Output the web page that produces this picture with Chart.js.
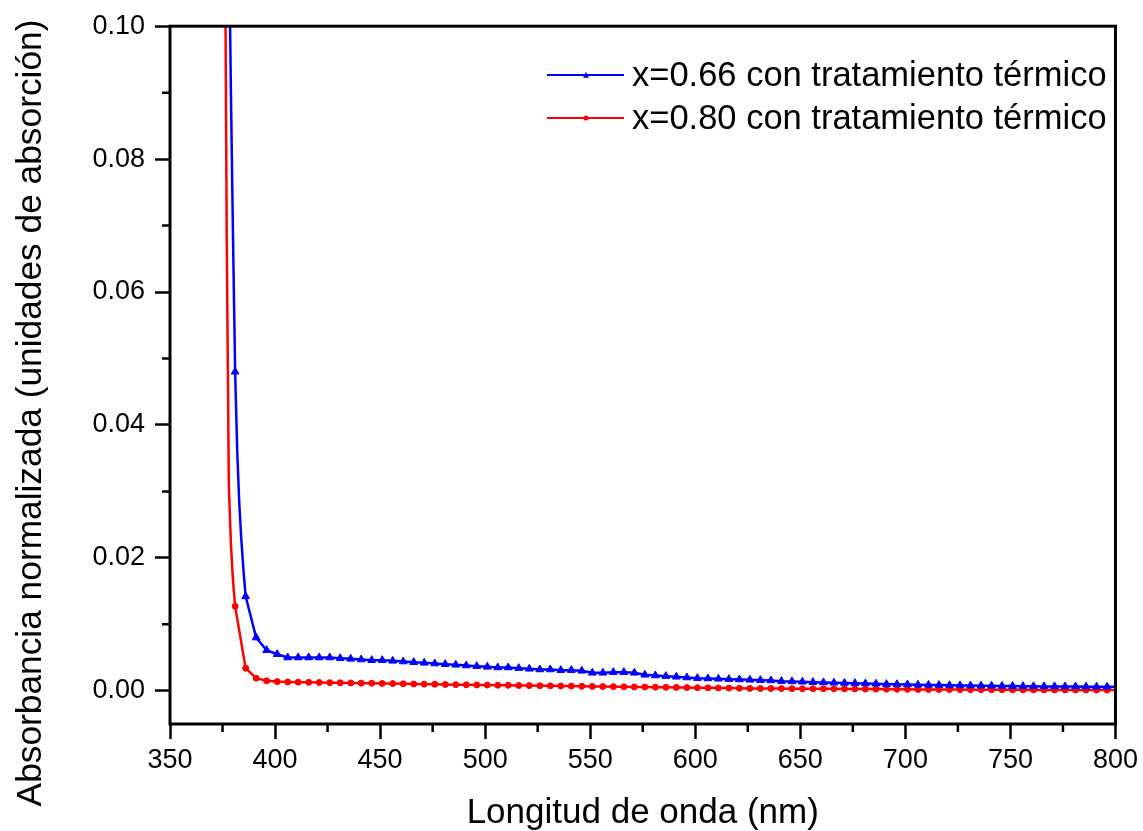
<!DOCTYPE html>
<html>
<head>
<meta charset="utf-8">
<script src="https://cdn.jsdelivr.net/npm/chart.js@4/dist/chart.umd.min.js"></script>
<style>
	body { margin: 0; background: #fff; }
	#chartContainer { position: relative; width: 1143px; height: 831px; }
	#absorbanceLegendContainer {
		position: absolute; left: 547px; top: 53px;
		font-family: "Liberation Sans", Arial, sans-serif; font-size: 34.5px; color: #000;
	}
	.legendItem { display: flex; align-items: center; height: 43px; white-space: nowrap; }
	.legendSample { position: relative; width: 77px; height: 2px; margin-right: 8px; }
	.legendMarker { position: absolute; left: 50%; top: 50%; transform: translate(-50%, -55%); }
	.legendMarker.triangle { width: 0; height: 0; border-left: 3px solid transparent; border-right: 3px solid transparent; border-bottom: 6px solid; }
	.legendMarker.circle { width: 5px; height: 5px; border-radius: 50%; transform: translate(-50%, -50%); }
</style>
</head>
<body>
<div id="chartContainer">
	<canvas id="absorbanceGraph" width="1143" height="831"></canvas>
	<div id="absorbanceLegendContainer"></div>
</div>
<script>
const seriesLabels = ["x=0.66 con tratamiento térmico", "x=0.80 con tratamiento térmico"];
const xTitle = "Longitud de onda (nm)";
const yTitle = "Absorbancia normalizada (unidades de absorción)";

const xTicks = [350, 400, 450, 500, 550, 600, 650, 700, 750, 800];
const xMinorTicks = [375, 425, 475, 525, 575, 625, 675, 725, 775];
const yTicks = [0, 0.02, 0.04, 0.06, 0.08, 0.10];
const yMinorTicks = [0.01, 0.03, 0.05, 0.07, 0.09];

// x=0.66 (azul)
const wavelengthBlue = [
	376, 377, 378, 379, 380, 381, 382, 383, 384, 385,
	386, 391, 396, 401, 406, 411, 416, 421, 426, 431,
	436, 441, 446, 451, 456, 461, 466, 471, 476, 481,
	486, 491, 496, 501, 506, 511, 516, 521, 526, 531,
	536, 541, 546, 551, 556, 561, 566, 571, 576, 581,
	586, 591, 596, 601, 606, 611, 616, 621, 626, 631,
	636, 641, 646, 651, 656, 661, 666, 671, 676, 681,
	686, 691, 696, 701, 706, 711, 716, 721, 726, 731,
	736, 741, 746, 751, 756, 761, 766, 771, 776, 781,
	786, 791, 796, 800
];
const blueAbs = [
	0.19, 0.15, 0.115, 0.09, 0.068, 0.048, 0.036, 0.028, 0.0225, 0.018,
	0.0142, 0.0080, 0.0061, 0.0055, 0.0050, 0.0050, 0.0050, 0.0050, 0.0050, 0.0049,
	0.0048, 0.0047, 0.0046, 0.0046, 0.0045, 0.0044, 0.0043, 0.0042, 0.0041, 0.0040,
	0.0039, 0.0038, 0.0037, 0.0036, 0.0035, 0.0035, 0.0034, 0.0033, 0.0032, 0.0032,
	0.0031, 0.0031, 0.0030, 0.0027, 0.0027, 0.0028, 0.0028, 0.0027, 0.0024, 0.0023,
	0.0022, 0.0021, 0.0020, 0.0019, 0.00185, 0.0018, 0.00175, 0.0017, 0.00165, 0.0016,
	0.00155, 0.00145, 0.0014, 0.00135, 0.0013, 0.00125, 0.0012, 0.00117, 0.00113, 0.0011,
	0.00105, 0.0010, 0.00097, 0.00094, 0.0009, 0.00088, 0.00085, 0.00082, 0.0008, 0.00078,
	0.00076, 0.00074, 0.00072, 0.0007, 0.00069, 0.00068, 0.00066, 0.00065, 0.00064, 0.00063,
	0.00062, 0.00061, 0.0006, 0.0006
];

// x=0.80 (rojo)
const wavelengthRed = [
	376, 377, 378, 379, 380, 381, 386, 391, 396, 401,
	406, 411, 416, 421, 426, 431, 436, 441, 446, 451,
	456, 461, 466, 471, 476, 481, 486, 491, 496, 501,
	506, 511, 516, 521, 526, 531, 536, 541, 546, 551,
	556, 561, 566, 571, 576, 581, 586, 591, 596, 601,
	606, 611, 616, 621, 626, 631, 636, 641, 646, 651,
	656, 661, 666, 671, 676, 681, 686, 691, 696, 701,
	706, 711, 716, 721, 726, 731, 736, 741, 746, 751,
	756, 761, 766, 771, 776, 781, 786, 791, 796, 800
];
const redAbs = [
	0.125, 0.068, 0.031, 0.022, 0.0165, 0.0127, 0.0034, 0.0019, 0.0015, 0.00138,
	0.00133, 0.0013, 0.00127, 0.00125, 0.00122, 0.0012, 0.00118, 0.00115, 0.00113, 0.0011,
	0.00108, 0.00105, 0.00102, 0.0010, 0.00098, 0.00095, 0.00092, 0.0009, 0.00088, 0.00086,
	0.00084, 0.00082, 0.0008, 0.00078, 0.00076, 0.00074, 0.00072, 0.0007, 0.00068, 0.00066,
	0.00064, 0.00062, 0.0006, 0.00058, 0.00056, 0.00054, 0.00052, 0.0005, 0.00048, 0.00046,
	0.00044, 0.00042, 0.0004, 0.00038, 0.00036, 0.00035, 0.00034, 0.00033, 0.00032, 0.00031,
	0.0003, 0.0003, 0.00029, 0.00028, 0.00027, 0.00026, 0.00025, 0.00024, 0.00023, 0.00022,
	0.00021, 0.0002, 0.0002, 0.00019, 0.00018, 0.00017, 0.00017, 0.00016, 0.00015, 0.00015,
	0.00014, 0.00013, 0.00013, 0.00012, 0.00012, 0.00011, 0.00011, 0.0001, 0.0001, 0.0001
];

const fontFamily = '"Liberation Sans", Arial, sans-serif';

// symbols only on the 5 nm grid, as in the original plot
function markerRadius(wavelengths, r){
	return wavelengths.map(w => (w % 5 === 1 ? r : 0));
}

const htmlLegendPlugin = {
	id: 'htmlLegend',
	afterUpdate(chart, args, options){
		const container = document.getElementById(options.containerID);
		container.innerHTML = '';
		chart.data.datasets.forEach(ds => {
			const item = document.createElement('div');
			item.className = 'legendItem';
			const sample = document.createElement('span');
			sample.className = 'legendSample';
			sample.style.background = ds.borderColor;
			const marker = document.createElement('span');
			marker.className = 'legendMarker ' + ds.pointStyle;
			if (ds.pointStyle == 'triangle')
				marker.style.borderBottomColor = ds.borderColor;
			else
				marker.style.background = ds.borderColor;
			sample.appendChild(marker);
			const text = document.createElement('span');
			text.innerText = ds.label;
			item.appendChild(sample);
			item.appendChild(text);
			container.appendChild(item);
		});
	}
};

const framePlugin = {
	id: 'frame',
	afterDatasetsDraw(chart){
		const {ctx, chartArea: a, scales: {x, y}} = chart;
		ctx.save();
		ctx.strokeStyle = '#000';
		ctx.lineWidth = 2.5;
		ctx.beginPath();
		xMinorTicks.forEach(v => {
			const px = x.getPixelForValue(v);
			ctx.moveTo(px, a.bottom);
			ctx.lineTo(px, a.bottom + 8);
		});
		yMinorTicks.forEach(v => {
			const py = y.getPixelForValue(v);
			ctx.moveTo(a.left, py);
			ctx.lineTo(a.left - 8, py);
		});
		ctx.stroke();
		ctx.lineWidth = 3;
		ctx.strokeRect(a.left, a.top, a.right - a.left, a.bottom - a.top);
		ctx.restore();
	}
};

// y title is centred lower than the plot area in the original, so draw it by hand
const yTitlePlugin = {
	id: 'yTitle',
	afterDraw(chart){
		const ctx = chart.ctx;
		ctx.save();
		ctx.translate(31, 413);
		ctx.rotate(-Math.PI / 2);
		ctx.font = '35.3px ' + fontFamily;
		ctx.fillStyle = '#000';
		ctx.textAlign = 'center';
		ctx.textBaseline = 'middle';
		ctx.fillText(yTitle, 0, 0);
		ctx.restore();
	}
};

{
	const data = {
		datasets: [{
			label: seriesLabels[0],
			data: wavelengthBlue.map((w, i) => ({x: w, y: blueAbs[i]})),
			borderColor: '#0000ff',
			backgroundColor: '#0000ff',
			pointBackgroundColor: '#0000ff',
			pointBorderColor: '#0000ff',
			pointStyle: 'triangle',
			pointRadius: markerRadius(wavelengthBlue, 4.5),
			pointBorderWidth: 1,
			borderWidth: 2.5,
			tension: 0
		}, {
			label: seriesLabels[1],
			data: wavelengthRed.map((w, i) => ({x: w, y: redAbs[i]})),
			borderColor: '#ff0000',
			backgroundColor: '#ff0000',
			pointBackgroundColor: '#ff0000',
			pointBorderColor: '#ff0000',
			pointStyle: 'circle',
			pointRadius: markerRadius(wavelengthRed, 3),
			pointBorderWidth: 1,
			borderWidth: 2.5,
			tension: 0
		}]
	};

	const tickFont = {family: fontFamily, size: 27};
	const options = {
		responsive: false,
		animation: false,
		events: [],
		layout: {padding: {top: 25, right: 24, left: 0, bottom: 0}},
		plugins: {
			legend: {display: false},
			tooltip: {enabled: false},
			htmlLegend: {containerID: 'absorbanceLegendContainer'}
		},
		scales: {
			x: {
				type: 'linear',
				min: 350,
				max: 800,
				afterBuildTicks: scale => { scale.ticks = xTicks.map(v => ({value: v})); },
				afterFit: scale => { scale.height = 107; },
				ticks: {font: tickFont, color: '#000', padding: 5, maxRotation: 0, callback: v => String(v)},
				grid: {drawOnChartArea: false, drawTicks: true, tickLength: 15, tickWidth: 2.5, tickColor: '#000'},
				border: {display: false},
				title: {display: true, text: xTitle, color: '#000', font: {family: fontFamily, size: 35, lineHeight: 1}, padding: 0}
			},
			y: {
				type: 'linear',
				min: -0.005,
				max: 0.10,
				afterBuildTicks: scale => { scale.ticks = yTicks.map(v => ({value: v})); },
				afterFit: scale => { scale.width = 170; },
				ticks: {font: tickFont, color: '#000', padding: 10, callback: v => v.toFixed(2)},
				grid: {drawOnChartArea: false, drawTicks: true, tickLength: 15, tickWidth: 2.5, tickColor: '#000'},
				border: {display: false}
			}
		}
	};

	new Chart(document.getElementById("absorbanceGraph"), {
		type: 'line',
		data: data,
		options: options,
		plugins: [htmlLegendPlugin, framePlugin, yTitlePlugin]
	});
}
</script>
</body>
</html>
